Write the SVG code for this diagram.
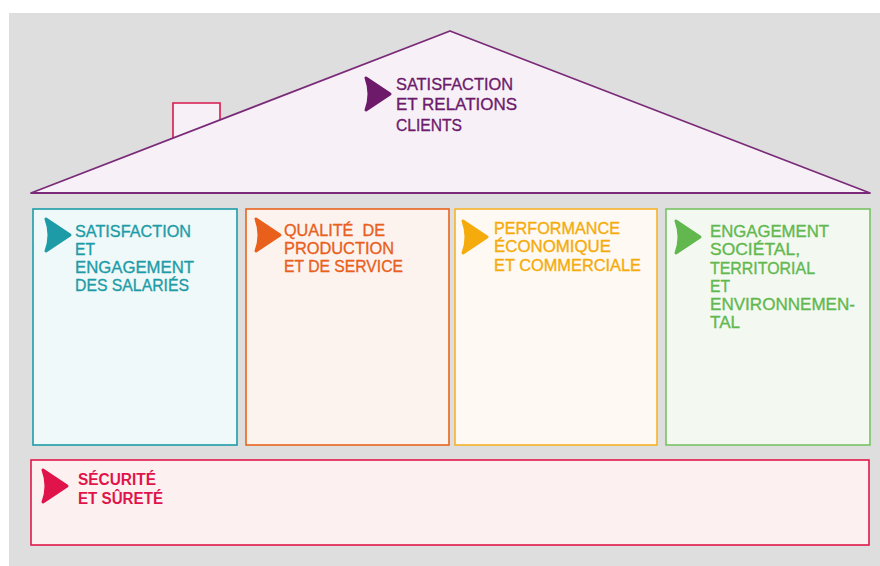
<svg xmlns="http://www.w3.org/2000/svg" width="880" height="566" viewBox="0 0 880 566">
<defs>
<style>
text{font-family:"Liberation Sans",Arial,sans-serif;font-size:17px;white-space:pre;stroke-width:0.35;}
.box{stroke-width:1.6;}
.arrow{stroke-linejoin:round;stroke-width:3;}
</style>
<path id="arr" d="M0,0 L24,16 L0,32 Q6,16 0,0 Z"/>
</defs>
<rect x="0" y="0" width="880" height="566" fill="#ffffff"/>
<rect x="9" y="13" width="871" height="553" fill="#dedede"/>

<g id="chimney">
<path d="M173,139 L173,103 L220,103 L220,120" fill="#f7f1f7" stroke="#d9184d" stroke-width="1.6"/>
</g>

<g id="roof">
<polygon points="31,193 450,31 870,193" fill="#f7f1f7" stroke="#7a2a78" stroke-width="1.8" stroke-linejoin="round"/>
<use href="#arr" x="366" y="78" fill="#6e1a6b" stroke="#6e1a6b" class="arrow"/>
<g fill="#6e1a6b" stroke="#6e1a6b">
<text x="396" y="90" textLength="117" lengthAdjust="spacingAndGlyphs">SATISFACTION</text>
<text x="396" y="110" textLength="121" lengthAdjust="spacingAndGlyphs">ET RELATIONS</text>
<text x="396" y="131" textLength="66" lengthAdjust="spacingAndGlyphs">CLIENTS</text>
</g>
</g>

<g id="box-salaries">
<rect x="33" y="209" width="204" height="236" fill="#f0f9f9" stroke="#1d9ca7" class="box"/>
<use href="#arr" x="46" y="219" fill="#1d9ca7" stroke="#1d9ca7" class="arrow"/>
<g fill="#1d9ca7" stroke="#1d9ca7">
<text x="75" y="237" textLength="116" lengthAdjust="spacingAndGlyphs">SATISFACTION</text>
<text x="75" y="255" textLength="20" lengthAdjust="spacingAndGlyphs">ET</text>
<text x="75" y="273" textLength="119" lengthAdjust="spacingAndGlyphs">ENGAGEMENT</text>
<text x="75" y="291" textLength="114" lengthAdjust="spacingAndGlyphs">DES SALARIÉS</text>
</g>
</g>

<g id="box-qualite">
<rect x="246" y="209" width="203" height="236" fill="#fdf3ee" stroke="#e8641f" class="box"/>
<use href="#arr" x="256" y="219" fill="#e8601c" stroke="#e8601c" class="arrow"/>
<g fill="#e8601c" stroke="#e8601c">
<text x="284" y="236" textLength="101" lengthAdjust="spacingAndGlyphs">QUALITÉ  DE</text>
<text x="284" y="254" textLength="110" lengthAdjust="spacingAndGlyphs">PRODUCTION</text>
<text x="284" y="272" textLength="119" lengthAdjust="spacingAndGlyphs">ET DE SERVICE</text>
</g>
</g>

<g id="box-performance">
<rect x="455" y="209" width="202" height="236" fill="#fefaf3" stroke="#f6b22a" class="box"/>
<use href="#arr" x="463" y="221" fill="#f5ab0c" stroke="#f5ab0c" class="arrow"/>
<g fill="#f5ab0c" stroke="#f5ab0c">
<text x="494" y="234" textLength="126" lengthAdjust="spacingAndGlyphs">PERFORMANCE</text>
<text x="494" y="252" textLength="117" lengthAdjust="spacingAndGlyphs">ÉCONOMIQUE</text>
<text x="494" y="271" textLength="147" lengthAdjust="spacingAndGlyphs">ET COMMERCIALE</text>
</g>
</g>

<g id="box-societal">
<rect x="666" y="209" width="204" height="236" fill="#f3f9f1" stroke="#77c266" class="box"/>
<use href="#arr" x="676" y="221" fill="#62b84f" stroke="#62b84f" class="arrow"/>
<g fill="#62b84f" stroke="#62b84f">
<text x="710" y="237" textLength="119" lengthAdjust="spacingAndGlyphs">ENGAGEMENT</text>
<text x="710" y="255" textLength="90" lengthAdjust="spacingAndGlyphs">SOCIÉTAL,</text>
<text x="710" y="274" textLength="105" lengthAdjust="spacingAndGlyphs">TERRITORIAL</text>
<text x="710" y="292" textLength="20" lengthAdjust="spacingAndGlyphs">ET</text>
<text x="710" y="310" textLength="145" lengthAdjust="spacingAndGlyphs">ENVIRONNEMEN-</text>
<text x="710" y="328" textLength="30" lengthAdjust="spacingAndGlyphs">TAL</text>
</g>
</g>

<g id="box-securite">
<rect x="31" y="460" width="838" height="85" fill="#fdf0f1" stroke="#e0184a" class="box"/>
<use href="#arr" x="43" y="470" fill="#e0144a" stroke="#e0144a" class="arrow"/>
<g fill="#e0144a" font-weight="bold">
<text x="78" y="485" textLength="78" lengthAdjust="spacingAndGlyphs" style="font-size:16px;stroke-width:0">SÉCURITÉ</text>
<text x="78" y="504" textLength="85" lengthAdjust="spacingAndGlyphs" style="font-size:16px;stroke-width:0">ET SÛRETÉ</text>
</g>
</g>

<g id="connectors"></g>
</svg>
